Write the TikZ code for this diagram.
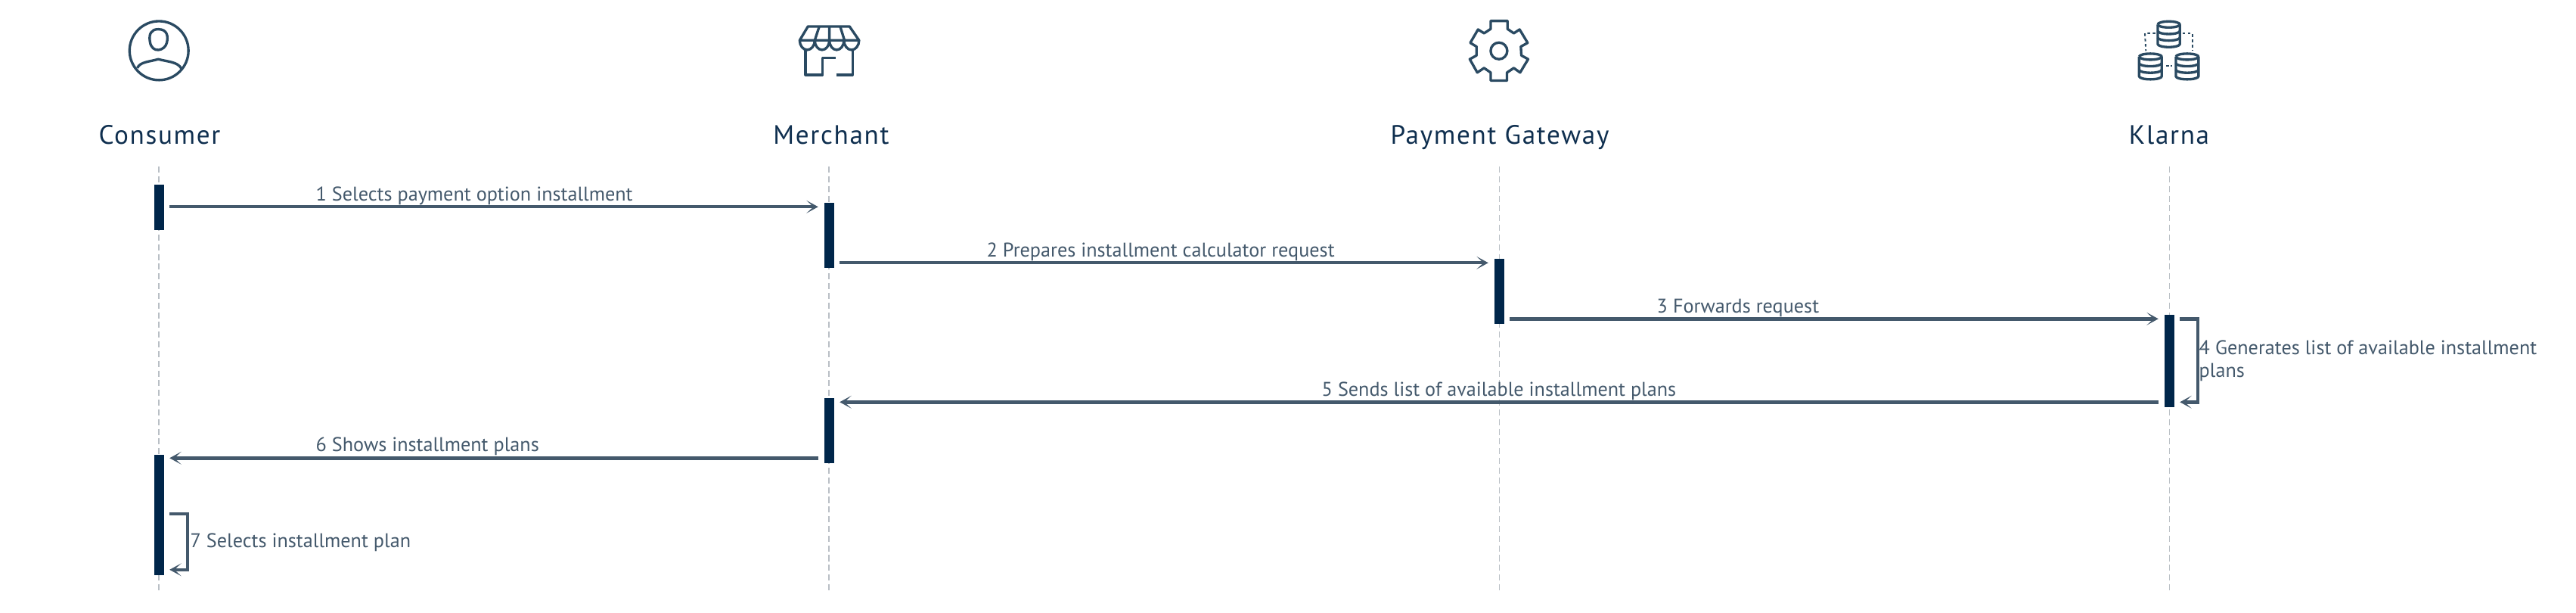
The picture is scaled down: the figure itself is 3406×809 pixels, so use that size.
\documentclass[tikz,border=0pt]{standalone}
\usepackage{fontspec}
\setmainfont{PT Sans}
\newfontfamily\headfont[LetterSpace=4.8]{PT Sans}
\usepackage{tikz}
\usetikzlibrary{arrows.meta}
\definecolor{headcol}{HTML}{0F2F4F}
\definecolor{barcol}{HTML}{00264A}
\definecolor{msgcol}{HTML}{44596C}
\definecolor{iconcol}{HTML}{2A4A62}
\definecolor{lifecol}{HTML}{B9BFC5}
\tikzset{
  headlabel/.style = {font = \headfont\fontsize{10pt}{12pt}\selectfont, text = headcol, inner sep = 0, anchor = base},
  msglabel/.style = {font = \fontsize{7.45pt}{8.53pt}\selectfont, text = msgcol, inner sep = 0, anchor = base west},
  lifeline/.style = {draw = lifecol, line width = .3pt, dash pattern = on 2.3pt off 1.35pt},
  actbar/.style = {fill = barcol, minimum width = 13*.01cm, inner sep = 0},
  msgline/.style = {draw = msgcol, line width = 1.25pt,
                    -{Stealth[length = 4.4pt, width = 4.8pt, inset = 2.6pt]}},
  iconbox/.style = {shift = {(#1)}, x = .00333cm, y = -.00333cm, draw = iconcol,
                    line width = .95pt, line join = round},
}
% one database drum, centre x, top y, half width
\newcommand{\dbdrum}[3]{
  \draw (#1-#3, #2) arc [start angle = 180, end angle = -180, x radius = #3, y radius = 12];
  \draw (#1-#3, #2) -- (#1-#3, #2+78) arc [start angle = 180, end angle = 0, x radius = #3, y radius = 12]
        -- (#1+#3, #2);
  \draw (#1-#3, #2+26) arc [start angle = 180, end angle = 0, x radius = #3, y radius = 12];
  \draw (#1-#3, #2+52) arc [start angle = 180, end angle = 0, x radius = #3, y radius = 12];
}
\begin{document}
\begin{tikzpicture}[x = .01cm, y = -.01cm]
\path[use as bounding box, fill = white] (0, 0) rectangle (3406, 809);
% lifelines
\foreach \who/\xpos in {con/210, mer/1096, pay/1982, kla/2868}{
  \coordinate (\who top) at (\xpos, 220);
  \coordinate (\who end) at (\xpos, 783);
  \draw[lifeline] (\who top) -- (\who end);
}
\node[headlabel] (consumer) at (211, 190) {Consumer};
\node[headlabel] (merchant) at (1099, 190) {Merchant};
\node[headlabel] (gateway) at (1983, 190) {Payment Gateway};
\node[headlabel] (klarna) at (2868, 190) {Klarna};
% activation bars
\node[actbar, minimum height = 60*.01cm] (conbar1) at (210.5, 274) {};
\node[actbar, minimum height = 86*.01cm] (merbar1) at (1096.5, 311) {};
\node[actbar, minimum height = 86*.01cm] (paybar1) at (1982.5, 385) {};
\node[actbar, minimum height = 122*.01cm] (klabar1) at (2868.5, 477) {};
\node[actbar, minimum height = 86*.01cm] (merbar2) at (1096.5, 569) {};
\node[actbar, minimum height = 159*.01cm] (conbar2) at (210.5, 680) {};
% messages
\draw[msgline] ([shift = {(6.5, 30)}]conbar1.north east) -- ([shift = {(-7.5, 6)}]merbar1.north west);
\draw[msgline] ([shift = {(6.5, 80)}]merbar1.north east) -- ([shift = {(-7.5, 6)}]paybar1.north west);
\draw[msgline] ([shift = {(6.5, 80)}]paybar1.north east) -- ([shift = {(-7.5, 6)}]klabar1.north west);
\draw[msgline] ([shift = {(-7.5, 116)}]klabar1.north west) -- ([shift = {(6.5, 6)}]merbar2.north east);
\draw[msgline] ([shift = {(-7.5, 80)}]merbar2.north west) -- ([shift = {(6.5, 5.5)}]conbar2.north east);
\draw[msgline] ([shift = {(6.5, 6)}]klabar1.north east) -- ++(23.5, 0) |- ([shift = {(6.5, 116)}]klabar1.north east);
\draw[msgline] ([shift = {(6.5, 79)}]conbar2.north east) -- ++(24, 0) |- ([shift = {(6.5, 153)}]conbar2.north east);
\node[msglabel] (msg1) at (417, 265) {1 Selects payment option installment};
\node[msglabel] (msg2) at (1304, 339) {2 Prepares installment calculator request};
\node[msglabel] (msg3) at (2190, 413) {3 Forwards request};
\node[msglabel, align = left, anchor = north west] (msg4) at (2907, 449) {4 Generates list of available installment\\plans};
\node[msglabel] (msg5) at (1747, 523) {5 Sends list of available installment plans};
\node[msglabel] (msg6) at (417, 596) {6 Shows installment plans};
\node[msglabel] (msg7) at (251, 723) {7 Selects installment plan};
% consumer icon
\begin{scope}[iconbox = {140, 10}]
  \draw (211, 171) circle (117);
  \draw (208, 86) .. controls (245, 86) and (248, 115) .. (242, 140)
        .. controls (235, 172) and (182, 185) .. (175, 135)
        .. controls (170, 105) and (180, 86) .. (208, 86) -- cycle;
  \draw (125, 240) .. controls (135, 215) and (175, 215) .. (208, 205)
        .. controls (245, 215) and (285, 215) .. (300, 242);
\end{scope}
% merchant icon
\begin{scope}[iconbox = {1040, 10}]
  \draw (52, 130) -- (85, 75) -- (250, 75) -- (288, 130) -- cycle;
  \draw (130, 75) -- (112, 130) (170, 75) -- (170, 130) (213, 75) -- (230, 130);
  \draw (52, 130) arc [start angle = 180, end angle = 0, x radius = 30, y radius = 38]
        arc [start angle = 180, end angle = 0, x radius = 29, y radius = 38]
        arc [start angle = 180, end angle = 0, x radius = 29, y radius = 38]
        arc [start angle = 180, end angle = 0, x radius = 30, y radius = 38];
  \draw (75, 168) -- (75, 267) -- (143, 267) -- (143, 200) -- (195, 200);
  \draw (197, 267) -- (262, 267) -- (262, 168);
\end{scope}
% gateway icon
\begin{scope}[iconbox = {1920, 10}]
  \draw (153, 53) -- (220, 53) -- (220, 85) -- (245, 102) -- (268, 87) -- (300, 140)
        -- (273, 155) -- (275, 190) -- (302, 205) -- (270, 258) -- (245, 240) -- (218, 258)
        -- (218, 290) -- (153, 290) -- (153, 258) -- (127, 240) -- (100, 258) -- (70, 205)
        -- (97, 190) -- (97, 155) -- (72, 140) -- (103, 87) -- (127, 102) -- (153, 85) -- cycle;
  \draw (186, 172) circle (33);
\end{scope}
% klarna icon
\begin{scope}[iconbox = {2810, 10}]
  \dbdrum{173}{67}{44}
  \dbdrum{100}{195}{45}
  \dbdrum{246}{195}{45}
  \draw[dash pattern = on 1pt off 1pt, line width = .55pt] (120, 102) -- (78, 102) -- (82, 172);
  \draw[dash pattern = on 1pt off 1pt, line width = .55pt] (228, 102) -- (267, 102) -- (267, 172);
  \draw[dash pattern = on 1pt off .7pt, line width = .7pt] (163, 232) -- (186, 232);
\end{scope}
\end{tikzpicture}
\end{document}
